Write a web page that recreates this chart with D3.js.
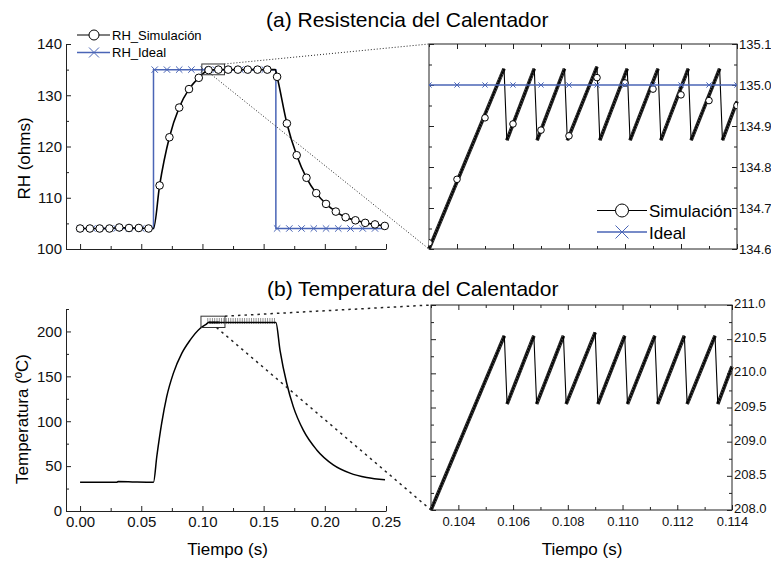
<!DOCTYPE html>
<html lang="es">
<head>
<meta charset="UTF-8">
<title>Calentador</title>
<style>
  body { margin: 0; background: #fff; }
  text { font-family: "Liberation Sans", Arial, sans-serif; }
</style>
</head>
<body>
<script src="https://d3js.org/d3.v7.min.js"></script>
<script>
// ---- (a) resistance, full run ----
const rhMarkT = [0.000, 0.008, 0.016, 0.024, 0.032, 0.040, 0.048, 0.056, 0.065, 0.073, 0.081, 0.089, 0.097, 0.105, 0.113, 0.121,
                 0.129, 0.137, 0.145, 0.153, 0.161, 0.169, 0.177, 0.185, 0.193, 0.201, 0.209, 0.217, 0.225, 0.233, 0.241, 0.249];
const rhMarkV = [104.0, 104.0, 104.0, 104.0, 104.2, 104.1, 104.1, 104.0, 112.4, 121.8, 127.6, 131.2, 133.4, 134.9, 135.0, 135.0,
                 135.0, 135.0, 135.0, 135.0, 133.6, 124.5, 118.3, 113.9, 110.9, 108.8, 107.3, 106.2, 105.6, 105.1, 104.8, 104.5];
// extra points where the simulated curve bends between markers
const rhBendT = [0.060, 0.1595];
const rhBendV = [104.0, 135.0];

const idealT = [0.000, 0.060, 0.060, 0.160, 0.160, 0.249];
const idealV = [104, 104, 135, 135, 104, 104];
const idealMarkT = [0.000, 0.010, 0.020, 0.030, 0.040, 0.050, 0.061, 0.071, 0.081, 0.091, 0.101, 0.111, 0.121,
                    0.131, 0.141, 0.151, 0.161, 0.171, 0.181, 0.191, 0.201, 0.211, 0.221, 0.231, 0.241];
const idealMarkV = [104, 104, 104, 104, 104, 104, 135, 135, 135, 135, 135, 135, 135,
                    135, 135, 135, 104, 104, 104, 104, 104, 104, 104, 104, 104];

// ---- zoomed window 0.103 - 0.114 s (shared time base) ----
const zoomT    = [0.10300, 0.10568, 0.10578, 0.10676, 0.10686, 0.10784, 0.10794, 0.10900, 0.10910,
                  0.11008, 0.11018, 0.11118, 0.11128, 0.11226, 0.11236, 0.11338, 0.11348, 0.11400];
const zoomTemp = [208.0, 210.55, 209.55, 210.55, 209.55, 210.55, 209.55, 210.6, 209.55,
                  210.55, 209.55, 210.55, 209.55, 210.55, 209.55, 210.55, 209.55, 210.1];
const zoomRH   = [134.60, 135.04, 134.865, 135.04, 134.865, 135.04, 134.865, 135.045, 134.865,
                  135.04, 134.865, 135.04, 134.865, 135.04, 134.865, 135.04, 134.865, 134.96];
const zoomMarkT  = [0.103, 0.104, 0.105, 0.106, 0.107, 0.108, 0.109, 0.110, 0.111, 0.112, 0.113, 0.114];
const zoomMarkRH = [134.615, 134.77, 134.92, 134.905, 134.89, 134.876, 135.018, 135.005, 134.99, 134.976, 134.962, 134.95];
const zoomIdeal  = 135.0;

// ---- (b) temperature, full run (window points merged in below) ----
const tempPreT  = [0.000, 0.030, 0.031, 0.045, 0.060, 0.0627, 0.0667, 0.0708, 0.0762, 0.0831, 0.0899, 0.0980];
const tempPreV  = [32.0, 32.0, 32.8, 32.3, 32.0, 60.7, 97.8, 127.3, 153.3, 175.6, 190.3, 203.3];
const tempPostT = [0.160, 0.1634, 0.1689, 0.1743, 0.1824, 0.1934, 0.2069, 0.2206, 0.2342, 0.2492];
const tempPostV = [210.0, 179.0, 142.0, 116.0, 90.0, 68.0, 51.4, 42.2, 37.3, 34.8];

// zoom boxes on the left panels [t0, t1, v0, v1] and where the lower connector leaves
const boxRH = [0.0995, 0.118, 134.0, 136.1], boxRHfoot = 0.1075;
const boxT  = [0.0988, 0.1184, 204.4, 217.0], boxTfoot = 0.1115;

const xTicks = [0, 0.05, 0.10, 0.15, 0.20, 0.25];
const xMinor = [0.025, 0.075, 0.125, 0.175, 0.225];
const zTicks = [0.104, 0.106, 0.108, 0.110, 0.112, 0.114];
const zMinor = [0.103, 0.105, 0.107, 0.109, 0.111, 0.113];

const W = 771, H = 562;
const BLUE = "#4a65b6";
const svg = d3.select("body").append("svg").attr("width", W).attr("height", H);

// scales
const xL   = d3.scaleLinear().domain([-0.0115, 0.25]).range([66, 386]);
const yRH  = d3.scaleLinear().domain([100, 140]).range([249, 44]);
const yT   = d3.scaleLinear().domain([0, 225]).range([511, 309]);
const xRa  = d3.scaleLinear().domain([0.103, 0.114]).range([429, 737]);
const yRHz = d3.scaleLinear().domain([134.6, 135.1]).range([249, 44]);
const xRb  = d3.scaleLinear().domain([0.103, 0.114]).range([431, 732]);
const yTz  = d3.scaleLinear().domain([208, 211]).range([510, 305]);

// one axis = a minor group + a major group, ticks pointing inwards
function axis(gen, scale, tx, ty, major, minor, fmt, fs, keepDomain, pad) {
  const gm = svg.append("g").attr("transform", `translate(${tx},${ty})`)
    .call(gen(scale).tickValues(minor).tickSizeInner(-3).tickSizeOuter(0).tickFormat(""));
  gm.select(".domain").remove();
  const g = svg.append("g").attr("transform", `translate(${tx},${ty})`)
    .call(gen(scale).tickValues(major).tickSizeInner(-5).tickSizeOuter(0).tickPadding(pad || 4).tickFormat(fmt || (() => "")));
  if (!keepDomain) g.select(".domain").remove();
  g.selectAll("text").attr("font-family", "Liberation Sans, Arial").attr("font-size", fs || 14).attr("fill", "#111");
  g.attr("font-family", null).attr("font-size", null);
  [g, gm].forEach(s => s.selectAll("line, path").attr("stroke", "#222"));
  return g;
}

function frame(x, y) {
  const [x0, x1] = x.range(), [y0, y1] = y.range();
  svg.append("rect").attr("x", x0).attr("y", y1).attr("width", x1 - x0).attr("height", y0 - y1)
    .attr("fill", "none").attr("stroke", "#222").attr("stroke-width", 1);
}

function clip(id, x, y) {
  const [x0, x1] = x.range(), [y0, y1] = y.range();
  svg.append("clipPath").attr("id", id).append("rect")
    .attr("x", x0).attr("y", y1).attr("width", x1 - x0).attr("height", y0 - y1);
}

function crossPath(s) { return `M${-s},${-s}L${s},${s}M${-s},${s}L${s},${-s}`; }

// rising parts of a sawtooth: the fine ripple reads as a dark hatched band
function band(xs, ys, T, V, w) {
  for (let i = 1; i < T.length; i++) {
    if (V[i] > V[i - 1]) {
      const seg = [[xs(T[i - 1]), ys(V[i - 1])], [xs(T[i]), ys(V[i])]];
      svg.append("path").attr("d", d3.line()(seg))
        .attr("stroke", "#1c1c1c").attr("stroke-width", w).attr("fill", "none");
      svg.append("path").attr("d", d3.line()(seg))
        .attr("stroke", "#fff").attr("stroke-width", w - 1.6).attr("stroke-opacity", 0.55)
        .attr("stroke-dasharray", "0.8,2.2").attr("fill", "none");
    }
  }
}

// ================= (a) left =================
axis(d3.axisLeft, yRH, 66, 0, [100, 110, 120, 130, 140], [105, 115, 125, 135], d3.format("d"), 15, true);
axis(d3.axisBottom, xL, 0, 249, xTicks, xMinor, null, 15, true);

svg.append("path")
  .attr("d", d3.line().x((d, i) => xL(idealT[i])).y((d, i) => yRH(idealV[i]))(idealT))
  .attr("fill", "none").attr("stroke", BLUE).attr("stroke-width", 1.5);
svg.append("g").selectAll("path").data(idealMarkT).join("path")
  .attr("transform", (d, i) => `translate(${xL(d)},${yRH(idealMarkV[i])})`)
  .attr("d", crossPath(3.2)).attr("stroke", BLUE).attr("stroke-width", 1).attr("fill", "none");

const rhLine = rhMarkT.map((t, i) => [t, rhMarkV[i]]).concat(rhBendT.map((t, i) => [t, rhBendV[i]]))
  .sort((a, b) => a[0] - b[0]);
svg.append("path")
  .attr("d", d3.line().curve(d3.curveMonotoneX).x(d => xL(d[0])).y(d => yRH(d[1]))(rhLine))
  .attr("fill", "none").attr("stroke", "#000").attr("stroke-width", 1.6);
svg.append("g").selectAll("circle").data(rhMarkT).join("circle")
  .attr("cx", d => xL(d)).attr("cy", (d, i) => yRH(rhMarkV[i])).attr("r", 3.8)
  .attr("fill", "#fff").attr("stroke", "#000").attr("stroke-width", 1);

// legend (a) left
const lg = svg.append("g");
lg.append("line").attr("x1", 77).attr("x2", 110).attr("y1", 35).attr("y2", 35).attr("stroke", "#000").attr("stroke-width", 1.2);
lg.append("circle").attr("cx", 94).attr("cy", 35).attr("r", 5).attr("fill", "#fff").attr("stroke", "#000");
lg.append("text").attr("x", 112).attr("y", 39.5).attr("font-size", 13).text("RH_Simulación");
lg.append("line").attr("x1", 77).attr("x2", 110).attr("y1", 52.5).attr("y2", 52.5).attr("stroke", BLUE).attr("stroke-width", 1.5);
lg.append("path").attr("transform", "translate(94,52.5)").attr("d", crossPath(5)).attr("stroke", BLUE).attr("fill", "none");
lg.append("text").attr("x", 112).attr("y", 57).attr("font-size", 13).text("RH_Ideal");

// ================= (a) right =================
clip("cA", xRa, yRHz);
frame(xRa, yRHz);
axis(d3.axisLeft, yRHz, 429, 0, d3.range(134.6, 135.11, 0.1), d3.range(134.65, 135.1, 0.1));
axis(d3.axisRight, yRHz, 737, 0, d3.range(134.6, 135.11, 0.1), d3.range(134.65, 135.1, 0.1), d3.format(".1f"), 13, false, 2);
axis(d3.axisTop, xRa, 0, 44, zTicks, zMinor);
axis(d3.axisBottom, xRa, 0, 249, zTicks, zMinor);

band(xRa, yRHz, zoomT, zoomRH, 3.6);
const pa = svg.append("g").attr("clip-path", "url(#cA)");
pa.append("path")
  .attr("d", d3.line().x((d, i) => xRa(zoomT[i])).y((d, i) => yRHz(zoomRH[i]))(zoomT))
  .attr("fill", "none").attr("stroke", "#000").attr("stroke-width", 1.1);
pa.selectAll("circle").data(zoomMarkT).join("circle")
  .attr("cx", d => xRa(d)).attr("cy", (d, i) => yRHz(zoomMarkRH[i])).attr("r", 3.3)
  .attr("fill", "#fff").attr("stroke", "#000").attr("stroke-width", 1);
pa.append("line").attr("x1", xRa(0.103)).attr("x2", xRa(0.114))
  .attr("y1", yRHz(zoomIdeal)).attr("y2", yRHz(zoomIdeal)).attr("stroke", BLUE).attr("stroke-width", 1.6);
pa.selectAll(".xm").data(zoomMarkT).join("path").attr("class", "xm")
  .attr("transform", d => `translate(${xRa(d)},${yRHz(zoomIdeal)})`)
  .attr("d", crossPath(2.6)).attr("stroke", BLUE).attr("fill", "none");

// legend (a) right
const lr = svg.append("g");
lr.append("line").attr("x1", 597).attr("x2", 647).attr("y1", 210.5).attr("y2", 210.5).attr("stroke", "#000").attr("stroke-width", 1.2);
lr.append("circle").attr("cx", 622).attr("cy", 210.5).attr("r", 6.5).attr("fill", "#fff").attr("stroke", "#000");
lr.append("text").attr("x", 649).attr("y", 216.5).attr("font-size", 17).text("Simulación");
lr.append("line").attr("x1", 597).attr("x2", 647).attr("y1", 232).attr("y2", 232).attr("stroke", BLUE).attr("stroke-width", 1.5);
lr.append("path").attr("transform", "translate(622,232)").attr("d", crossPath(6.5)).attr("stroke", BLUE).attr("fill", "none");
lr.append("text").attr("x", 649).attr("y", 238.5).attr("font-size", 17).text("Ideal");

// zoom box + dotted connectors (a)
svg.append("rect").attr("x", xL(boxRH[0])).attr("y", yRH(boxRH[3]))
  .attr("width", xL(boxRH[1]) - xL(boxRH[0])).attr("height", yRH(boxRH[2]) - yRH(boxRH[3]))
  .attr("fill", "none").attr("stroke", "#333").attr("stroke-width", 1);
svg.append("line").attr("x1", xL(boxRH[1])).attr("y1", yRH(boxRH[3])).attr("x2", xRa(0.103)).attr("y2", yRHz(135.1))
  .attr("stroke", "#222").attr("stroke-width", 1).attr("stroke-dasharray", "1,2");
svg.append("line").attr("x1", xL(boxRHfoot)).attr("y1", yRH(boxRH[2])).attr("x2", xRa(0.103)).attr("y2", yRHz(134.6))
  .attr("stroke", "#222").attr("stroke-width", 1).attr("stroke-dasharray", "1,2");

// ================= (b) left =================
axis(d3.axisLeft, yT, 66, 0, [0, 50, 100, 150, 200], [25, 75, 125, 175, 225], d3.format("d"), 15, true);
axis(d3.axisBottom, xL, 0, 511, xTicks, xMinor, d3.format(".2f"), 15, true, 5);

const tempLine = tempPreT.map((t, i) => [t, tempPreV[i]])
  .concat(zoomT.map((t, i) => [t, zoomTemp[i]]))
  .concat(tempPostT.map((t, i) => [t, tempPostV[i]]));
// sawtooth plateau shows up as a grey fuzz at this scale
svg.append("line").attr("x1", xL(0.104)).attr("x2", xL(0.1595))
  .attr("y1", yT(211.5)).attr("y2", yT(211.5))
  .attr("stroke", "#888").attr("stroke-width", 6).attr("stroke-dasharray", "0.9,1.4");
svg.append("path")
  .attr("d", d3.line().curve(d3.curveMonotoneX).x(d => xL(d[0])).y(d => yT(d[1]))(tempLine))
  .attr("fill", "none").attr("stroke", "#000").attr("stroke-width", 1.5);

// ================= (b) right =================
clip("cB", xRb, yTz);
frame(xRb, yTz);
axis(d3.axisLeft, yTz, 431, 0, d3.range(208, 211.1, 0.5), d3.range(208.25, 211, 0.5));
axis(d3.axisRight, yTz, 732, 0, d3.range(208, 211.1, 0.5), d3.range(208.25, 211, 0.5), d3.format(".1f"), 13, false, 2)
  .selectAll("text").attr("dy", "0.2em");
axis(d3.axisTop, xRb, 0, 305, zTicks, zMinor);
axis(d3.axisBottom, xRb, 0, 510, zTicks, zMinor, d3.format(".3f"), 13, false, 6.5);

band(xRb, yTz, zoomT, zoomTemp, 3.6);
svg.append("g").attr("clip-path", "url(#cB)").append("path")
  .attr("d", d3.line().x((d, i) => xRb(zoomT[i])).y((d, i) => yTz(zoomTemp[i]))(zoomT))
  .attr("fill", "none").attr("stroke", "#000").attr("stroke-width", 1.1);

// zoom box + dashed connectors (b)
svg.append("rect").attr("x", xL(boxT[0])).attr("y", yT(boxT[3]))
  .attr("width", xL(boxT[1]) - xL(boxT[0])).attr("height", yT(boxT[2]) - yT(boxT[3]))
  .attr("fill", "none").attr("stroke", "#333").attr("stroke-width", 1);
svg.append("line").attr("x1", xL(boxT[1])).attr("y1", yT(boxT[3])).attr("x2", xRb(0.103)).attr("y2", yTz(211))
  .attr("stroke", "#222").attr("stroke-width", 1.5).attr("stroke-dasharray", "2.5,4");
svg.append("line").attr("x1", xL(boxTfoot)).attr("y1", yT(boxT[2])).attr("x2", xRb(0.103)).attr("y2", yTz(208))
  .attr("stroke", "#222").attr("stroke-width", 1.5).attr("stroke-dasharray", "2.5,4");

// ================= titles =================
svg.append("text").attr("x", 266).attr("y", 26.5).attr("font-size", 21).text("(a) Resistencia del Calentador");
svg.append("text").attr("x", 267).attr("y", 296).attr("font-size", 21).text("(b) Temperatura del Calentador");
svg.append("text").attr("transform", "translate(29.5,158.5) rotate(-90)").attr("text-anchor", "middle")
  .attr("font-size", 17).text("RH (ohms)");
svg.append("text").attr("transform", "translate(28,419) rotate(-90)").attr("text-anchor", "middle")
  .attr("font-size", 17).text("Temperatura (ºC)");
svg.append("text").attr("x", 227.5).attr("y", 554.5).attr("text-anchor", "middle").attr("font-size", 17).text("Tiempo (s)");
svg.append("text").attr("x", 582).attr("y", 554.5).attr("text-anchor", "middle").attr("font-size", 17).text("Tiempo (s)");
</script>
</body>
</html>
